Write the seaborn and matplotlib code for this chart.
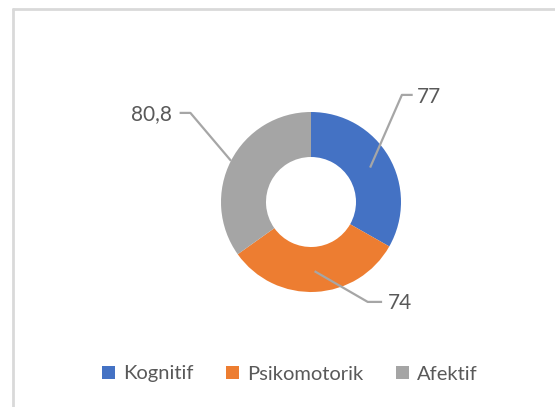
import numpy as np
import matplotlib
matplotlib.use("Agg")
import matplotlib.pyplot as plt
from matplotlib.lines import Line2D
from matplotlib.patches import Patch
import seaborn as sns

categories = ["Kognitif", "Psikomotorik", "Afektif"]
values = [77, 74, 80.8]
value_labels = ["77", "74", "80,8"]
colors = ["#4472C4", "#ED7D31", "#A5A5A5"]

sns.set_theme(style="white")
plt.rcParams['font.family'] = ['Lato', 'DejaVu Sans']

W, H, DPI = 555, 407, 100
fig = plt.figure(figsize=(W / DPI, H / DPI), dpi=DPI)
fig.patch.set_facecolor("white")
ax = fig.add_axes([0, 0, 1, 1])
ax.set_facecolor("white")

cx, cy, R = 311, 202, 90  # pixel geometry
ax.axis("off")

wedges, _ = ax.pie(values, colors=colors, startangle=90, counterclock=False,
                   radius=1.0, wedgeprops=dict(width=0.5, edgecolor="none"),
                   normalize=True)
ax.set_xlim(-cx / R, (W - cx) / R)
ax.set_ylim(-(H - cy) / R, cy / R)
ax.set_aspect("auto")

# leader lines: anchor radius, elbow, horizontal end, text side
anchor_r = [0.76, 0.77, 1.0]
elbows = [(1.01, 1.19), (0.63, -1.11), (-1.34, 0.99)]
ends = [(1.13, 1.19), (0.79, -1.11), (-1.46, 0.99)]
text_pos = [(1.18, 1.17), (0.85, -1.12), (-1.55, 0.98)]
aligns = ["left", "left", "right"]
line_c = "#A6A6A6"
txt_c = "#595959"

for w, r, el, en, tp, al, lab in zip(wedges, anchor_r, elbows, ends, text_pos, aligns, value_labels):
    ang = np.deg2rad((w.theta1 + w.theta2) / 2)
    ax_ = r * np.cos(ang)
    ay_ = r * np.sin(ang)
    ax.plot([ax_, el[0], en[0]], [ay_, el[1], en[1]], color=line_c, lw=1.6,
            solid_capstyle="butt", zorder=3)
    ax.text(tp[0], tp[1], lab, ha=al, va="center", fontsize=15, color=txt_c, zorder=4)

handles = [Patch(facecolor=c, edgecolor="none") for c in colors]
leg = fig.legend(handles, categories, loc="center", bbox_to_anchor=(290 / W, 1 - 374 / H),
                 ncol=3, frameon=False, fontsize=14.5, handlelength=0.65, handleheight=0.65,
                 handletextpad=0.4, columnspacing=1.6)
for t in leg.get_texts():
    t.set_color(txt_c)

# chart area border (top and left visible)
fig.add_artist(Line2D([13.3 / W, 1], [1 - 9.3 / H, 1 - 9.3 / H], transform=fig.transFigure,
                      color="#D9D9D9", lw=2))
fig.add_artist(Line2D([13.3 / W, 13.3 / W], [0, 1 - 9.3 / H], transform=fig.transFigure,
                      color="#D9D9D9", lw=2))

fig.savefig("out.png", dpi=DPI, facecolor="white")
